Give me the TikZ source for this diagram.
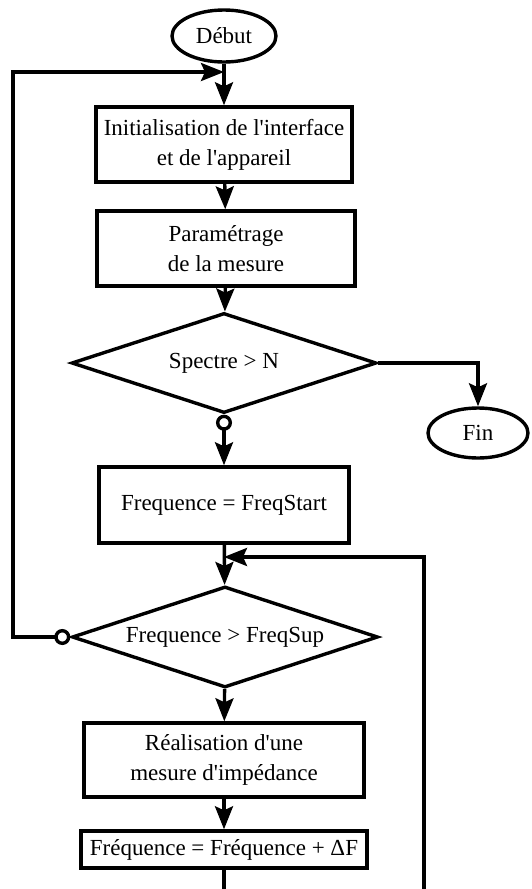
\documentclass[tikz,border=0pt]{standalone}
\usepackage{fontspec}
\setmainfont{Liberation Serif}
\usetikzlibrary{shapes.geometric,arrows.meta}
\tikzset{
    every node/.style={draw, line width=3.4pt, align=center, inner sep=0pt,
    	font=\fontsize{23}{30}\selectfont}
}
\tikzset{
    boite/.style={rectangle},
    terminal/.style={ellipse},
    test/.style={diamond, aspect=3}
}
\tikzset{
	fleche/.style={line width=3.4pt, -{Stealth[length=23pt,width=18pt,inset=4pt]}},
	oui/.style={line width=3.4pt,
		{Circle[open,length=16pt]}-{Stealth[length=23pt,width=18pt,inset=4pt]}}
}

\begin{document}
\begin{tikzpicture}
	\useasboundingbox (0pt,0pt) rectangle (532pt,-889pt);
	\clip (0pt,0pt) rectangle (532pt,-889pt);
	\node [terminal, minimum width=104pt, minimum height=52pt] (debut) at (224pt,-36pt) {Début};
	\node [boite, minimum width=256pt, minimum height=75pt] (init) at (224pt,-144.5pt) {Initialisation de l\textquotesingle interface\\et de l\textquotesingle appareil};
	\node [boite, minimum width=258pt, minimum height=75pt] (param) at (226pt,-248.5pt) {Paramétrage\\de la mesure};
	\node [test, minimum width=305pt, minimum height=100pt] (spectre) at (224pt,-363pt) {Spectre > N};
	\node [terminal, minimum width=100pt, minimum height=50pt] (fin) at (478pt,-433pt) {Fin};
	\node [boite, minimum width=250pt, minimum height=76pt] (freqstart) at (224pt,-505pt) {Frequence = FreqStart};
	\node [test, minimum width=306pt, minimum height=101pt] (freqsup) at (225pt,-637pt) {Frequence > FreqSup};
	\node [boite, minimum width=280pt, minimum height=74pt] (mesure) at (224pt,-760pt) {Réalisation d\textquotesingle une\\mesure d\textquotesingle impédance};
	\node [boite, minimum width=286pt, minimum height=37pt] (increment) at (224pt,-849.5pt) {Fréquence = Fréquence + ΔF};
	\coordinate (haut) at (224pt,-72pt);
	\coordinate (gauche) at (13pt,-637pt);
	\coordinate (retour) at (224pt,-557pt);
	\coordinate (bas) at (424pt,-920pt);
	\draw [fleche] (debut) -- (init);
	\draw [fleche] (init) -- (param);
	\draw [fleche] (param) -- (spectre);
	\draw [fleche] (spectre.east) -| (fin);
	\draw [oui] (spectre) -- (freqstart);
	\draw [fleche] (freqstart) -- (freqsup);
	\draw [oui] (freqsup.west) -- (gauche) |- (haut);
	\draw [fleche] (freqsup) -- (mesure);
	\draw [fleche] (mesure) -- (increment);
	\draw [fleche] (increment) |- (bas) |- (retour);
\end{tikzpicture}
\end{document}
